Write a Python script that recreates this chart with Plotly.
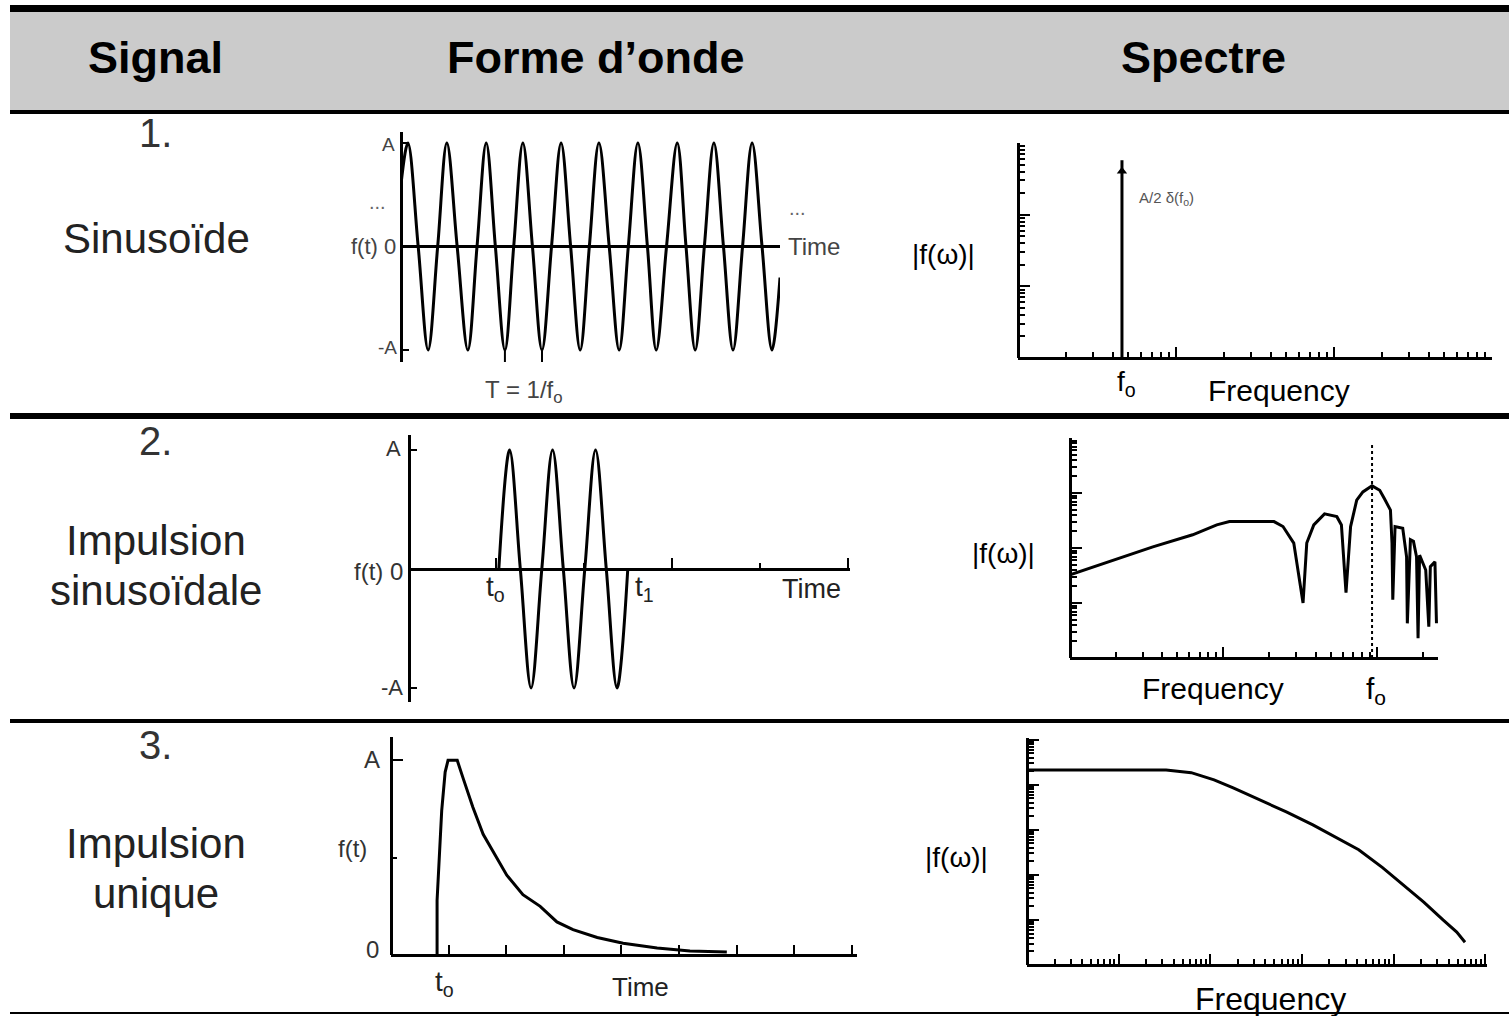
import plotly.graph_objects as go

W, H = 1509, 1016

# --- values ---
headers = ["Signal", "Forme d’onde", "Spectre"]
header_x = [155, 596, 1203]

row_numbers = ["1.", "2.", "3."]
row_names = [["Sinusoïde"], ["Impulsion", "sinusoïdale"], ["Impulsion", "unique"]]

# row 1: continuous sine, time in periods
sine_t = [0, 0.18, 0.45, 0.71, 0.96, 1.20, 1.47, 1.75, 1.99, 2.23, 2.47, 2.72, 2.95,
          3.19, 3.44, 3.69, 3.94, 4.19, 4.44, 4.69, 4.93, 5.18, 5.45, 5.71, 5.95,
          6.20, 6.45, 6.68, 6.95, 7.23, 7.46, 7.70, 7.94, 8.19, 8.44, 8.69, 8.94,
          9.19, 9.45, 9.71, 9.92]
sine_y = [0.6, 1, 0, -1, 0, 1, 0, -1, 0, 1, 0, -1, 0,
          1, 0, -1, 0, 1, 0, -1, 0, 1, 0, -1, 0,
          1, 0, -1, 0, 1, 0, -1, 0, 1, 0, -1, 0,
          1, 0, -1, -0.3]
period_marks_t = [2.72, 3.69]

line_f = [4.55, 4.55]
line_amp = [1, 575]

# row 2: sine burst between t0 and t1
burst_t = [2.09, 2.34, 2.59, 2.84, 3.09, 3.34, 3.59, 3.84, 4.09, 4.34, 4.59, 4.84, 5.09]
burst_y = [0, 1, 0, -1, 0, 1, 0, -1, 0, 1, 0, -1, 0]

burst_spec_f = [1, 1.82, 3.47, 6.31, 9.06, 10.96, 21.4, 24.5, 28.8, 33.1, 35.0, 38.9,
                45.7, 55.0, 58.9, 63.1, 67.6, 74.1, 81.3, 93.3, 104.7, 112.2, 123.0,
                125.9, 127.4, 131.8, 147.9, 156.7, 158.5, 166.0, 173.8, 182.0, 186.2,
                190.5, 208.9, 218.8, 223.9, 239.9, 245.5]
burst_spec_amp = [32.4, 56.2, 104.7, 173.8, 263, 302, 302, 245.5, 123, 10, 123, 263,
                  417, 371.5, 263, 15.5, 245.5, 741, 1047, 1349, 1122, 794, 490,
                  123, 11.5, 245.5, 229, 69.2, 4.27, 141, 132, 69.2, 2.29,
                  74.1, 39.8, 3.72, 45.7, 56.2, 4.27]
burst_f0 = 93.3
burst_f0_top = 8000

# row 3: single pulse
pulse_t = [0.80, 0.80, 0.88, 0.94, 0.99, 1.15, 1.25, 1.42, 1.60, 1.84, 2.01, 2.29,
           2.59, 2.88, 3.16, 3.58, 4.03, 4.62, 5.19, 5.83]
pulse_y = [0, 0.28, 0.74, 0.94, 1.0, 1.0, 0.91, 0.76, 0.62, 0.50, 0.41, 0.31,
           0.25, 0.17, 0.13, 0.09, 0.06, 0.036, 0.02, 0.015]

pulse_spec_f = [1, 33, 62, 110, 178, 347, 676, 1318, 2344, 4169, 7586, 12023,
                21380, 34674, 48978, 60256]
pulse_spec_amp = [21380, 21380, 18621, 12882, 8511, 4677, 2512, 1288, 692, 363,
                  145, 66, 25, 10, 5.4, 3.2]


def px(x):
    return x / W


def py(y):
    return 1 - y / H


fig = go.Figure()


def axis_pair(n, box, xr, yr, xkw, ykw, xlog=False, ylog=False, zero=False):
    x0, x1, y0, y1 = box
    dx = [px(x0), px(x1)]
    dy = [py(y1), py(y0)]
    if zero:
        pos = dy[0] + (0 - yr[0]) / (yr[1] - yr[0]) * (dy[1] - dy[0])
    else:
        pos = dy[0]
    common = dict(showline=True, linewidth=3, linecolor="black", showgrid=False,
                  zeroline=False, showticklabels=False, ticks="", tickcolor="black",
                  tickwidth=2, fixedrange=True)
    xa = dict(common, domain=dx, range=xr, anchor="free", position=pos,
              type="log" if xlog else "linear", **xkw)
    ya = dict(common, domain=dy, range=yr, anchor="free", position=dx[0],
              type="log" if ylog else "linear", **ykw)
    sx = "" if n == 1 else str(n)
    fig.update_layout(**{"xaxis" + sx: xa, "yaxis" + sx: ya})
    return "x" + sx, "y" + sx


log_ticks = dict(ticks="inside", ticklen=10, dtick=1,
                 minor=dict(ticks="inside", ticklen=5, tickwidth=2,
                            tickcolor="black", dtick="D1"))

ax1 = axis_pair(1, (401, 780, 132, 362), [0, 9.92], [-1.116, 1.106],
                {}, dict(ticks="inside", ticklen=6, tickvals=[-1, 1]), zero=True)
ax2 = axis_pair(2, (1018, 1492, 143, 358), [0, 3], [0, 3],
                log_ticks, log_ticks, xlog=True, ylog=True)
ax3 = axis_pair(3, (409, 850, 435, 702), [0, 10.26], [-1.118, 1.126],
                dict(ticks="inside", ticklen=10, tick0=2.02, dtick=4.1,
                     minor=dict(ticks="inside", ticklen=5, tickwidth=2,
                                tickcolor="black", tick0=2.02, dtick=2.05)),
                dict(ticks="inside", ticklen=6, tickvals=[-1, 1]), zero=True)
ax4 = axis_pair(4, (1070, 1438, 438, 658), [0, 2.4], [0, 4],
                log_ticks, log_ticks, xlog=True, ylog=True)
ax5 = axis_pair(5, (391, 857, 737, 955), [0, 8.09], [0, 1.12],
                dict(ticks="inside", ticklen=9, dtick=1),
                dict(ticks="inside", ticklen=10, tickvals=[1],
                     minor=dict(ticks="inside", ticklen=4, tickwidth=2,
                                tickcolor="black", tickvals=[0.5])))
ax6 = axis_pair(6, (1027, 1487, 738, 965), [0, 5.02], [0, 5.04],
                log_ticks, log_ticks, xlog=True, ylog=True)


def curve(x, y, ax, shape="linear", width=3, dash="solid"):
    fig.add_trace(go.Scatter(x=x, y=y, mode="lines", xaxis=ax[0], yaxis=ax[1],
                             line=dict(color="black", width=width, shape=shape, dash=dash),
                             showlegend=False, hoverinfo="skip"))


curve(sine_t, sine_y, ax1, shape="spline")
for t in period_marks_t:
    curve([t, t], [-1, -1.2], ax1, width=2)

curve(line_f, line_amp, ax2)
fig.add_trace(go.Scatter(x=line_f[1:], y=[line_amp[1] * 0.7], mode="markers",
                         xaxis=ax2[0], yaxis=ax2[1], showlegend=False, hoverinfo="skip",
                         marker=dict(symbol="triangle-up", size=9, color="black")))

curve(burst_t, burst_y, ax3, shape="spline")
curve(burst_spec_f, burst_spec_amp, ax4)
curve([burst_f0, burst_f0], [1, burst_f0_top], ax4, width=2, dash="dot")

curve(pulse_t, pulse_y, ax5)
curve(pulse_spec_f, pulse_spec_amp, ax6)

# --- table frame ---
shapes = [dict(type="rect", xref="paper", yref="paper", x0=px(10), x1=1,
               y0=py(112), y1=py(10), fillcolor="#cbcbcb", line_width=0, layer="below")]
for y, w in [(8.5, 7), (112, 4), (416, 6), (721, 4), (1013, 2)]:
    shapes.append(dict(type="line", xref="paper", yref="paper", x0=px(10), x1=1,
                       y0=py(y), y1=py(y), line=dict(color="black", width=w)))

annotations = []


def label(text, x, y, size, color="black", xanchor="center", bold=False):
    annotations.append(dict(text=text, x=px(x), y=py(y), xref="paper", yref="paper",
                            xanchor=xanchor, yanchor="middle", showarrow=False,
                            font=dict(size=size, color=color,
                                      family="Liberation Sans, Arial, sans-serif",
                                      weight="bold" if bold else "normal")))


for text, x in zip(headers, header_x):
    label(text, x, 57, 45, bold=True)

number_y = [133, 441, 745]
name_y = [[238], [540, 590], [843, 893]]
for num, ny, names, ys in zip(row_numbers, number_y, row_names, name_y):
    label(num, 155, ny, 40, color="#333")
    for name, y in zip(names, ys):
        label(name, 156, y, 42, color="#222")

# row 1 labels
label("A", 397, 145, 19, "#444", "right")
label("-A", 399, 347, 19, "#444", "right")
label("f(t) 0", 398, 246, 22, "#444", "right")
label("...", 377, 202, 20, "#666")
label("...", 797, 208, 20, "#666")
label("Time", 786, 246, 24, "#444", "left")
label("T = 1/f<sub>o</sub>", 524, 391, 24, "#444")
label("|f(ω)|", 943, 254, 28)
label("A/2 δ(f<sub>o</sub>)", 1137, 199, 15, "#555", "left")
label("f<sub>o</sub>", 1126, 383, 28)
label("Frequency", 1279, 390, 30)

# row 2 labels
label("A", 403, 448, 22, "#333", "right")
label("-A", 405, 687, 22, "#333", "right")
label("f(t) 0", 405, 571, 24, "#333", "right")
label("t<sub>o</sub>", 496, 588, 28, "#222")
label("t<sub>1</sub>", 644, 588, 28, "#222")
label("Time", 811, 589, 27, "#222")
label("|f(ω)|", 1004, 553, 28)
label("Frequency", 1213, 688, 30)
label("f<sub>o</sub>", 1376, 690, 30)

# row 3 labels
label("A", 372, 759, 24, "#333")
label("f(t)", 352, 848, 24, "#333")
label("0", 372, 949, 24, "#333")
label("t<sub>o</sub>", 444, 983, 28, "#222")
label("Time", 640, 987, 26, "#222")
label("|f(ω)|", 956, 857, 28)
label("Frequency", 1270, 999, 32)

fig.update_layout(width=W, height=H, margin=dict(l=0, r=0, t=0, b=0),
                  paper_bgcolor="white", plot_bgcolor="white",
                  shapes=shapes, annotations=annotations, showlegend=False)

# the page's default body margin would push the figure 8px right and down
fig.write_html("out.html", config={"displayModeBar": False},
               post_script="document.body.style.margin='0';")
